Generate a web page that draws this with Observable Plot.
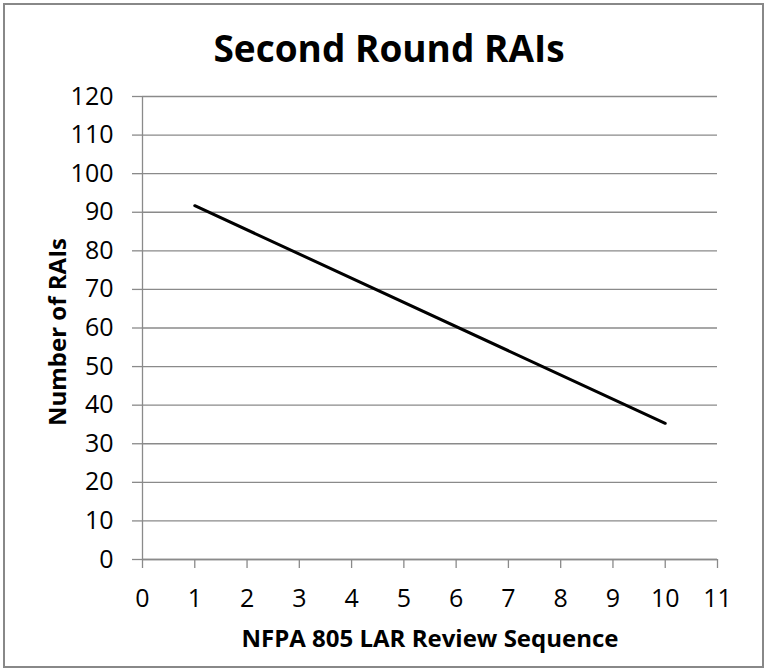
<!DOCTYPE html>
<html>
<head>
<meta charset="utf-8">
<script src="https://cdn.jsdelivr.net/npm/d3@7"></script>
<script src="https://cdn.jsdelivr.net/npm/@observablehq/plot@0.6"></script>
<style>
  html, body { margin: 0; padding: 0; background: #fff; }
  #wrap { position: relative; width: 765px; height: 670px; overflow: hidden; }
  #border { position: absolute; left: 3px; top: 3px; width: 757px; height: 661px; border: 2px solid #888; box-sizing: content-box; pointer-events: none; }
  #chart { position: absolute; left: 0; top: 0; }
</style>
</head>
<body>
<div id="wrap"><div id="chart"></div><div id="border"></div></div>
<script>
const titleText = "Second Round RAIs";
const xTitle = "NFPA 805 LAR Review Sequence";
const yTitle = "Number of RAIs";
const sequence = [1, 10];
const rais = [91.7, 35.3];
const xTicks = [0, 1, 2, 3, 4, 5, 6, 7, 8, 9, 10, 11];
const yTicks = [0, 10, 20, 30, 40, 50, 60, 70, 80, 90, 100, 110, 120];

const data = sequence.map((s, i) => ({x: s, y: rais[i]}));
const gray = "#8a8a8a";

const chart = Plot.plot({
  width: 765,
  height: 670,
  marginLeft: 142,
  marginRight: 48,
  marginTop: 96,
  marginBottom: 111,
  style: {fontFamily: "'Open Sans', sans-serif", fontSize: "25px", color: "#000", background: "transparent", overflow: "visible"},
  x: {domain: [0, 11]},
  y: {domain: [0, 120]},
  marks: [
    Plot.gridY(yTicks, {stroke: gray, strokeOpacity: 1, strokeWidth: 1.3}),
    Plot.axisY(yTicks, {tickSize: 10, tickPadding: 19, stroke: gray, strokeWidth: 1.3, label: null, fontSize: 25}),
    Plot.axisX(xTicks, {tickSize: 9, tickPadding: 21, stroke: gray, strokeWidth: 1.3, label: null, fontSize: 25}),
    Plot.ruleX([0], {y1: 0, y2: 120, stroke: gray, strokeWidth: 1.3}),
    Plot.ruleY([0], {x1: 0, x2: 11, stroke: gray, strokeWidth: 1.3}),
    Plot.line(data, {x: "x", y: "y", stroke: "#000", strokeWidth: 3}),
    Plot.text([titleText], {frameAnchor: "top", lineAnchor: "middle", textAnchor: "middle", dx: -41, dy: -46, fontSize: 37, fontWeight: "bold", fill: "#000"}),
    Plot.text([xTitle], {frameAnchor: "bottom", lineAnchor: "middle", textAnchor: "middle", dy: 80, fontSize: 24, fontWeight: "bold", fill: "#000"}),
    Plot.text([yTitle], {frameAnchor: "left", lineAnchor: "middle", textAnchor: "middle", dx: -84, dy: 4, rotate: -90, fontSize: 24, fontWeight: "bold", fill: "#000"})
  ]
});
document.getElementById("chart").appendChild(chart);
</script>
</body>
</html>
